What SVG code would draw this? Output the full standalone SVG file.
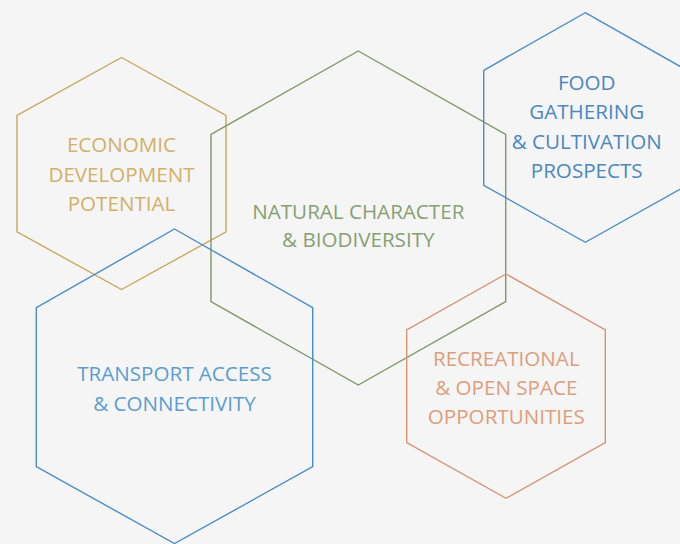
<svg xmlns="http://www.w3.org/2000/svg" width="680" height="544" viewBox="0 0 680 544">
<style>
.hex{fill:none;stroke-width:1.4;stroke-linejoin:miter}
.t{font-family:"Open Sans","Noto Sans","Liberation Sans",sans-serif;font-size:20.6px;text-anchor:middle}
.gold{stroke:#C9A75C}.goldt{fill:#D2B068}
.green{stroke:#7E9866}.greent{fill:#87A072}
.blue{stroke:#4A8DC6}.bluet{fill:#4C88C0}
.blue2t{fill:#5A9ED0}
.orange{stroke:#D69470}.oranget{fill:#DD9E7C}
</style>
<rect width="680" height="544" fill="#F5F5F5"/>
<g id="economic">
<polygon class="hex gold" points="121.5,57.5 226,115.5 226,231.8 121.5,289.5 17,231.8 17,115.5"/>
<text class="t goldt" x="121.5" y="152.3">ECONOMIC</text>
<text class="t goldt" x="121.5" y="181.7">DEVELOPMENT</text>
<text class="t goldt" x="121.5" y="211">POTENTIAL</text>
</g>
<g id="natural">
<polygon class="hex green" points="358.3,51 505.7,134.3 505.7,301.7 358.3,385 211,301.7 211,134.3"/>
<text class="t greent" x="358.3" y="219">NATURAL CHARACTER</text>
<text class="t greent" x="358.3" y="247.3">&amp; BIODIVERSITY</text>
</g>
<g id="food">
<polygon class="hex blue" points="585.3,12.7 687,70.3 687,185.3 585.3,242.3 483.7,185.3 483.7,70.3"/>
<text class="t bluet" x="586.7" y="90">FOOD</text>
<text class="t bluet" x="586.7" y="119">GATHERING</text>
<text class="t bluet" x="586.7" y="149">&amp; CULTIVATION</text>
<text class="t bluet" x="586.7" y="177.7">PROSPECTS</text>
</g>
<g id="transport">
<polygon class="hex blue" points="174.5,229 312.7,307.7 312.7,466.7 174.5,543.5 36.3,466.7 36.3,307.7"/>
<text class="t blue2t" x="174.5" y="381">TRANSPORT ACCESS</text>
<text class="t blue2t" x="174.5" y="410.7">&amp; CONNECTIVITY</text>
</g>
<g id="recreational">
<polygon class="hex orange" points="506,274 605.3,330 605.3,442.7 506,498.3 406.7,442.7 406.7,330"/>
<text class="t oranget" x="506.3" y="366">RECREATIONAL</text>
<text class="t oranget" x="506.3" y="395">&amp; OPEN SPACE</text>
<text class="t oranget" x="506.3" y="423.7">OPPORTUNITIES</text>
</g>
<g id="connectors"></g>
</svg>
